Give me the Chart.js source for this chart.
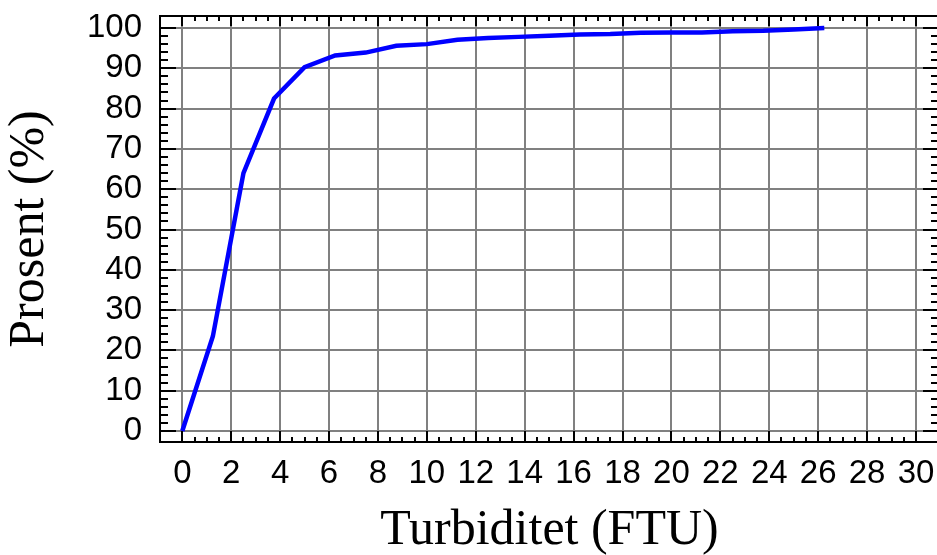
<!DOCTYPE html>
<html>
<head>
<meta charset="utf-8">
<script src="https://cdn.jsdelivr.net/npm/chart.js@4/dist/chart.umd.min.js"></script>
<style>
html,body{margin:0;padding:0;background:#fff;overflow:hidden;width:937px;height:555px}
canvas{display:block}
</style>
</head>
<body>
<canvas id="c" width="945" height="570"></canvas>
<script>
// Data
const turbidity = [0, 1.25, 2.5, 3.75, 5, 6.25, 7.5, 8.75, 10, 11.25, 12.5, 13.75, 15, 16.25, 17.5, 18.75, 20, 21.25, 22.5, 23.75, 25, 26.25];
const percent   = [0, 23.5, 64, 82.5, 90.3, 93.2, 93.9, 95.6, 96.0, 97.1, 97.5, 97.8, 98.1, 98.4, 98.5, 98.8, 98.9, 98.9, 99.2, 99.3, 99.6, 100];
const xTicks = [0, 2, 4, 6, 8, 10, 12, 14, 16, 18, 20, 22, 24, 26, 28, 30];
const yTicks = [0, 10, 20, 30, 40, 50, 60, 70, 80, 90, 100];
const xMinorStep = 0.5;
const yMinorStep = 2;
const xTitle = 'Turbiditet (FTU)';
const yTitle = 'Prosent (%)';

const points = turbidity.map((t, i) => ({x: t, y: percent[i]}));

const frameTicks = {
  id: 'frameTicks',
  afterDraw(chart) {
    const {ctx, chartArea: a, scales: {x, y}} = chart;
    ctx.save();
    ctx.strokeStyle = '#000';
    ctx.lineWidth = 2;
    ctx.beginPath();
    const xLast = xTicks[xTicks.length - 1];
    for (let k = 0; xTicks[0] + k * xMinorStep <= xLast + 1e-9; k++) {
      const v = xTicks[0] + k * xMinorStep;
      const px = Math.round(x.getPixelForValue(v));
      const major = xTicks.includes(v);
      ctx.moveTo(px, a.top); ctx.lineTo(px, a.top + (major ? 10 : 5));
      ctx.moveTo(px, a.bottom); ctx.lineTo(px, a.bottom - (major ? 11 : 5));
    }
    const yLast = yTicks[yTicks.length - 1];
    for (let k = 0; yTicks[0] + k * yMinorStep <= yLast + 1e-9; k++) {
      const v = yTicks[0] + k * yMinorStep;
      const py = Math.round(y.getPixelForValue(v));
      const len = yTicks.includes(v) ? 16 : 8;
      ctx.moveTo(a.left, py); ctx.lineTo(a.left + len, py);
      ctx.moveTo(a.right, py); ctx.lineTo(a.right - len, py);
    }
    ctx.stroke();
    ctx.strokeRect(Math.round(a.left), Math.round(a.top), Math.round(a.right - a.left), Math.round(a.bottom - a.top));
    ctx.restore();
  }
};

new Chart(document.getElementById('c'), {
  type: 'line',
  data: {
    datasets: [{
      data: points,
      borderColor: '#0000ff',
      borderWidth: 4.5,
      pointRadius: 0,
      fill: false,
      tension: 0
    }]
  },
  options: {
    responsive: false,
    devicePixelRatio: 1,
    animation: false,
    layout: {padding: {top: 16, right: 6, left: 0, bottom: 0}},
    plugins: {legend: {display: false}, tooltip: {enabled: false}},
    scales: {
      x: {
        type: 'linear',
        min: -0.912,
        max: 30.94,
        afterBuildTicks: s => { s.ticks = xTicks.map(v => ({value: v})); },
        afterFit: s => { s.height = 128; s.paddingLeft = 0; s.paddingRight = 0; },
        ticks: {
          font: {family: 'Liberation Sans, Arial, sans-serif', size: 33},
          color: '#000', padding: 12, maxRotation: 0, autoSkip: false
        },
        grid: {color: '#808080', lineWidth: 2, drawTicks: false},
        border: {display: false},
        title: {
          display: true, text: xTitle, color: '#000',
          font: {family: 'Liberation Serif, Times New Roman, serif', size: 50},
          padding: {top: 0, bottom: 9}
        }
      },
      y: {
        type: 'linear',
        min: -2.73,
        max: 102.98,
        afterBuildTicks: s => { s.ticks = yTicks.map(v => ({value: v})); },
        afterFit: s => { s.width = 160; s.paddingTop = 0; s.paddingBottom = 0; },
        ticks: {
          font: {family: 'Liberation Sans, Arial, sans-serif', size: 33},
          color: '#000', padding: 18
        },
        grid: {color: '#808080', lineWidth: 2, drawTicks: false},
        border: {display: false},
        title: {
          display: true, text: yTitle, color: '#000',
          font: {family: 'Liberation Serif, Times New Roman, serif', size: 50},
          padding: {top: 0, bottom: 0}
        }
      }
    }
  },
  plugins: [frameTicks]
});
</script>
</body>
</html>
